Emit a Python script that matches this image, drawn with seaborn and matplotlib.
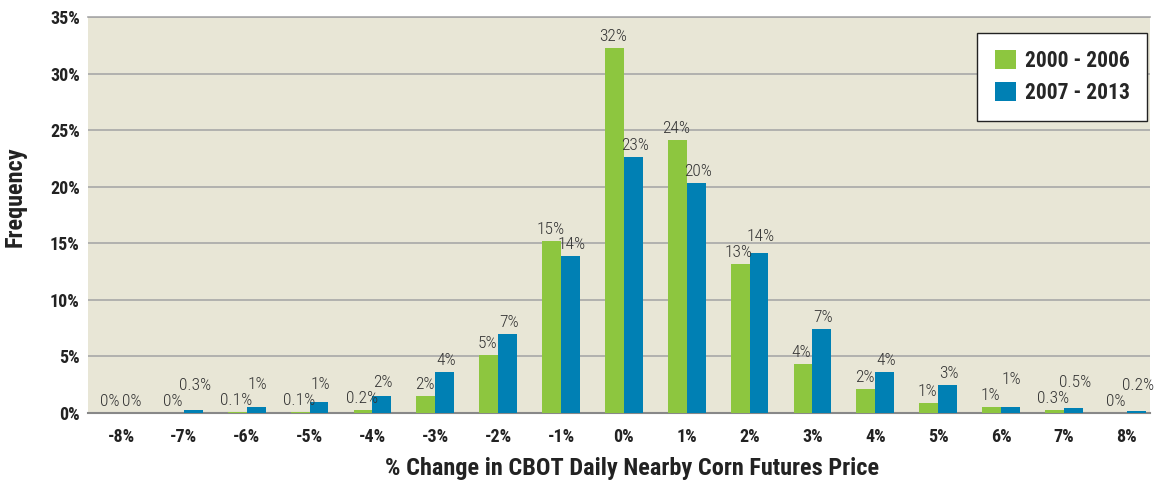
import pandas as pd
import numpy as np
import seaborn as sns
import matplotlib.pyplot as plt

# % change categories
changes = ['-8%', '-7%', '-6%', '-5%', '-4%', '-3%', '-2%', '-1%', '0%',
           '1%', '2%', '3%', '4%', '5%', '6%', '7%', '8%']
# frequency values (percent)
freq_2000_2006 = [0, 0, 0.1, 0.1, 0.25, 1.5, 5.1, 15.2, 32.3, 24.1, 13.2, 4.3, 2.1, 0.9, 0.5, 0.3, 0]
freq_2007_2013 = [0, 0.3, 0.5, 1.0, 1.5, 3.6, 7.0, 13.9, 22.6, 20.3, 14.1, 7.4, 3.6, 2.5, 0.5, 0.45, 0.2]
# printed labels on the bars
labels_2000_2006 = ['0%', '0%', '0.1%', '0.1%', '0.2%', '2%', '5%', '15%', '32%',
                    '24%', '13%', '4%', '2%', '1%', '1%', '0.3%', '0%']
labels_2007_2013 = ['0%', '0.3%', '1%', '1%', '2%', '4%', '7%', '14%', '23%',
                    '20%', '14%', '7%', '4%', '3%', '1%', '0.5%', '0.2%']
periods = ['2000 - 2006', '2007 - 2013']

df = pd.DataFrame({
    'change': changes * 2,
    'freq': freq_2000_2006 + freq_2007_2013,
    'period': [periods[0]] * len(changes) + [periods[1]] * len(changes),
})

sns.set_style('white')
plt.rcParams['font.family'] = ['Roboto Condensed', 'DejaVu Sans']

fig = plt.figure(figsize=(11.55, 4.82), dpi=100)
ax = fig.add_axes([0.0762, 0.1432, 0.9195, 0.8215])
ax.set_facecolor('#E8E6D6')

sns.barplot(data=df, x='change', y='freq', hue='period', order=changes,
            palette=['#8DC63F', '#0080B4'], width=0.6, saturation=1,
            edgecolor='none', ax=ax, zorder=3)

ax.set_ylim(0, 35)
ax.set_xlim(-0.525, 16.37)

# value labels: blue label lifted over the green one when its bar is not lower
px_per_pt = fig.dpi / 72
ppu = ax.get_window_extent().height / 35
green_bars, blue_bars = ax.containers[0], ax.containers[1]
for gb, bb, gl, bl in zip(green_bars, blue_bars, labels_2000_2006, labels_2007_2013):
    g, b = gb.get_height(), bb.get_height()
    g_off = 4
    b_off = 4
    if b >= g and b > 0:
        b_off = max(4, (g - b) * ppu + 4 + 16)
    ax.annotate(gl, (gb.get_x() + gb.get_width() / 2, g), xytext=(-1, g_off / px_per_pt),
                textcoords='offset points', ha='center', va='bottom', fontsize=12.5,
                fontweight='light', color='#333333')
    ax.annotate(bl, (bb.get_x() + bb.get_width() / 2, b), xytext=(1, b_off / px_per_pt),
                textcoords='offset points', ha='center', va='bottom', fontsize=12.5,
                fontweight='light', color='#333333')

ax.set_yticks(np.arange(0, 36, 5))
ax.set_yticklabels([f'{v}%' for v in range(0, 36, 5)], fontsize=13, fontweight='bold', color='#222222')
ax.tick_params(axis='x', labelsize=13, colors='#222222', length=0, pad=11)
ax.tick_params(axis='y', length=0, pad=6)
for t in ax.get_xticklabels():
    t.set_fontweight('bold')
ax.grid(axis='y', color='#A8A8A8', linewidth=1.2, zorder=0)
ax.set_axisbelow(True)
for side in ['left', 'right']:
    ax.spines[side].set_visible(False)
ax.spines['top'].set_color('#A8A8A8')
ax.spines['top'].set_linewidth(1.2)
ax.spines['bottom'].set_color('#888888')
ax.spines['bottom'].set_linewidth(1.5)

ax.set_xlabel('% Change in CBOT Daily Nearby Corn Futures Price', fontsize=17.5,
              fontweight='bold', color='#222222')
ax.set_ylabel('Frequency', fontsize=17.5, fontweight='bold', color='#222222')
ax.xaxis.set_label_coords(0.512, -0.112)
ax.yaxis.set_label_coords(-0.0574, 0.545)

leg = ax.legend(loc='upper right', bbox_to_anchor=(0.997, 0.96), frameon=True,
                fancybox=False, edgecolor='#222222', facecolor='white',
                prop={'size': 15.5, 'weight': 'bold'}, handlelength=1.0,
                handleheight=1.0, handletextpad=0.4, borderpad=0.8, labelspacing=0.45,
                borderaxespad=0)
leg.get_frame().set_linewidth(1.0)
leg.get_frame().set_alpha(1)

plt.savefig('out.png', dpi=100)
